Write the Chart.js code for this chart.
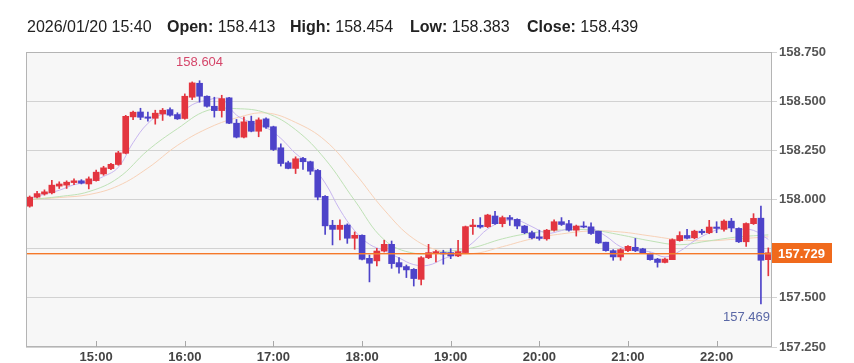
<!DOCTYPE html>
<html>
<head>
<meta charset="utf-8">
<script src="https://cdn.jsdelivr.net/npm/chart.js@4/dist/chart.umd.min.js"></script>
<style>
  html, body { margin: 0; padding: 0; background: #fff; }
  #wrap { position: relative; width: 854px; height: 363px; }
  #hdr span { position: absolute; top: 18px; font: 16px "Liberation Sans", Arial, sans-serif; color: #222; white-space: nowrap; }
  #hdr b { font-weight: bold; }
  canvas { position: absolute; left: 0; top: 0; }
</style>
</head>
<body>
<div id="wrap">
  <canvas id="chart" width="854" height="363"></canvas>
  <div id="hdr">
    <span style="left:27px">2026/01/20 15:40</span>
    <span style="left:167px"><b>Open:</b> 158.413</span>
    <span style="left:290px"><b>High:</b> 158.454</span>
    <span style="left:410px"><b>Low:</b> 158.383</span>
    <span style="left:527px"><b>Close:</b> 158.439</span>
  </div>
</div>
<script>
// 5 minute candles, 14:15 .. 22:35
const times = [
  '14:15','14:20','14:25','14:30','14:35','14:40','14:45','14:50','14:55',
  '15:00','15:05','15:10','15:15','15:20','15:25','15:30','15:35','15:40','15:45','15:50','15:55',
  '16:00','16:05','16:10','16:15','16:20','16:25','16:30','16:35','16:40','16:45','16:50','16:55',
  '17:00','17:05','17:10','17:15','17:20','17:25','17:30','17:35','17:40','17:45','17:50','17:55',
  '18:00','18:05','18:10','18:15','18:20','18:25','18:30','18:35','18:40','18:45','18:50','18:55',
  '19:00','19:05','19:10','19:15','19:20','19:25','19:30','19:35','19:40','19:45','19:50','19:55',
  '20:00','20:05','20:10','20:15','20:20','20:25','20:30','20:35','20:40','20:45','20:50','20:55',
  '21:00','21:05','21:10','21:15','21:20','21:25','21:30','21:35','21:40','21:45','21:50','21:55',
  '22:00','22:05','22:10','22:15','22:20','22:25','22:30','22:35'
];

const opens = [
  157.966,158.012,158.028,158.034,158.068,158.073,158.086,158.095,158.079,158.096,
  158.130,158.157,158.178,158.235,158.420,158.445,158.420,158.413,158.435,158.457,
  158.432,158.412,158.520,158.591,158.525,158.474,158.452,158.517,158.388,158.317,
  158.398,158.347,158.410,158.370,158.263,158.187,158.158,158.209,158.192,158.148,
  158.016,157.869,157.848,157.870,157.803,157.818,157.701,157.688,157.738,157.772,
  157.679,157.659,157.645,157.594,157.704,157.726,157.730,157.730,157.713,157.730,
  157.862,157.869,157.862,157.916,157.877,157.908,157.899,157.865,157.831,157.810,
  157.800,157.844,157.887,157.877,157.844,157.865,157.861,157.839,157.783,157.740,
  157.708,157.740,157.757,157.749,157.725,157.697,157.680,157.694,157.791,157.817,
  157.805,157.839,157.831,157.860,157.848,157.890,157.853,157.785,157.877,157.905,
  157.694
];
const highs = [
  158.018,158.042,158.049,158.098,158.090,158.095,158.105,158.101,158.115,158.149,
  158.169,158.184,158.245,158.428,158.449,158.464,158.444,158.454,158.463,158.466,
  158.441,158.537,158.598,158.604,158.527,158.520,158.530,158.520,158.407,158.419,
  158.424,158.415,158.415,158.373,158.283,158.195,158.217,158.215,158.195,158.153,
  158.020,157.894,157.896,157.876,157.835,157.820,157.718,157.752,157.793,157.789,
  157.705,157.667,157.649,157.710,157.772,157.742,157.742,157.750,157.793,157.865,
  157.899,157.908,157.925,157.940,157.916,157.919,157.902,157.868,157.839,157.844,
  157.848,157.896,157.908,157.894,157.870,157.887,157.882,157.839,157.783,157.745,
  157.750,157.766,157.802,157.752,157.728,157.701,157.702,157.800,157.836,157.848,
  157.844,157.848,157.894,157.887,157.896,157.904,157.856,157.882,157.928,157.966,
  157.754
];
const lows = [
  157.961,158.008,158.022,158.029,158.056,158.056,158.076,158.079,158.054,158.093,
  158.123,158.152,158.174,158.232,158.406,158.406,158.398,158.383,158.402,158.424,
  158.407,158.408,158.508,158.495,158.469,158.419,158.419,158.385,158.313,158.313,
  158.344,158.319,158.361,158.249,158.170,158.156,158.132,158.153,158.127,157.998,
  157.823,157.769,157.794,157.777,157.747,157.693,157.581,157.662,157.733,157.650,
  157.625,157.603,157.560,157.566,157.699,157.682,157.671,157.699,157.709,157.726,
  157.823,157.854,157.857,157.873,157.861,157.868,157.851,157.826,157.800,157.793,
  157.793,157.839,157.868,157.839,157.814,157.856,157.822,157.776,157.737,157.691,
  157.691,157.735,157.735,157.725,157.691,157.656,157.677,157.694,157.788,157.800,
  157.800,157.822,157.826,157.831,157.839,157.836,157.781,157.762,157.873,157.469,
  157.612
];
const closes = [
  158.012,158.030,158.039,158.073,158.079,158.088,158.095,158.083,158.105,158.139,
  158.161,158.179,158.237,158.423,158.444,158.418,158.413,158.439,158.454,158.429,
  158.410,158.525,158.593,158.525,158.474,158.452,158.513,158.388,158.317,158.395,
  158.347,158.405,158.368,158.254,158.183,158.158,158.207,158.192,158.144,158.012,
  157.866,157.848,157.869,157.803,157.818,157.696,157.676,157.738,157.772,157.674,
  157.657,157.642,157.598,157.704,157.730,157.735,157.723,157.713,157.735,157.862,
  157.870,157.860,157.921,157.877,157.908,157.899,157.865,157.831,157.805,157.802,
  157.844,157.887,157.873,157.844,157.865,157.860,157.827,157.779,157.740,157.708,
  157.745,157.762,157.740,157.728,157.694,157.680,157.697,157.796,157.817,157.803,
  157.839,157.831,157.860,157.853,157.890,157.856,157.785,157.878,157.904,157.691,
  157.729
];

// moving average lines, read at every 10 min (fast) and every 20 min (mid, slow)
const maFastTimes = [
  '14:15','14:25','14:35','14:45','14:55','15:05','15:15','15:25','15:35','15:45','15:55',
  '16:05','16:15','16:25','16:35','16:45','16:55','17:05','17:15','17:25','17:35','17:45','17:55',
  '18:05','18:15','18:25','18:35','18:45','18:55','19:05','19:15','19:25','19:35','19:45','19:55',
  '20:05','20:15','20:25','20:35','20:45','20:55','21:05','21:15','21:25','21:35','21:45','21:55',
  '22:05','22:15','22:25','22:35'
];
const maFast = [
  158.005,158.027,158.047,158.075,158.090,158.117,158.164,158.289,158.387,158.434,158.429,
  158.482,158.505,158.511,158.429,158.392,158.366,158.311,158.234,158.177,158.084,157.948,157.841,
  157.772,157.740,157.703,157.669,157.666,157.698,157.727,157.781,157.850,157.887,157.894,157.862,
  157.829,157.842,157.863,157.854,157.814,157.760,157.739,157.734,157.708,157.737,157.790,157.830,
  157.855,157.849,157.843,157.797
];
const maSlowTimes = [
  '14:15','14:35','14:55','15:15','15:35','15:55','16:15','16:35','16:55','17:15','17:35','17:55',
  '18:15','18:35','18:55','19:15','19:35','19:55','20:15','20:35','20:55','21:15','21:35','21:55',
  '22:15','22:35'
];
const maMid = [
  158.000,158.015,158.040,158.110,158.250,158.360,158.452,158.462,158.440,158.355,158.205,157.995,
  157.795,157.727,157.735,157.755,157.800,157.830,157.845,157.845,157.820,157.790,157.770,157.790,
  157.810,157.820
];
const maSlow = [
  158.000,158.010,158.025,158.070,158.160,158.275,158.360,158.415,158.440,158.392,158.300,158.135,
  157.947,157.800,157.735,157.725,157.760,157.800,157.825,157.840,157.835,157.815,157.795,157.790,
  157.800,157.810
];

const yTicks = [157.25, 157.5, 157.75, 158.0, 158.25, 158.5, 158.75];

const UP = '#e3353f';
const DOWN = '#4d43c9';
const colors = closes.map((c, i) => c >= opens[i] ? UP : DOWN);
const tickFont = { family: '"Liberation Sans", Arial, sans-serif', size: 13, weight: 'bold' };

const decor = {
  id: 'decor',
  beforeDraw(chart) {
    const { ctx, chartArea: a } = chart;
    ctx.save();
    ctx.fillStyle = '#f7f7f7';
    ctx.fillRect(a.left, a.top, a.width, a.height);
    ctx.restore();
  },
  afterDraw(chart) {
    const { ctx, chartArea: a, scales } = chart;
    const last = closes[closes.length - 1];
    const py = Math.round(scales.y.getPixelForValue(last));
    ctx.save();
    // current price line
    ctx.fillStyle = '#f5782a';
    ctx.fillRect(a.left, py, a.width, 1);
    ctx.fillStyle = 'rgba(245, 140, 70, 0.45)';
    ctx.fillRect(a.left, py + 1, a.width, 1);
    // frame
    ctx.strokeStyle = '#b4b4b4';
    ctx.lineWidth = 1;
    ctx.strokeRect(a.left + 0.5, a.top + 0.5, a.width - 1, a.height - 1);
    // hour ticks
    ctx.strokeStyle = '#a8a8a8';
    times.forEach((t, i) => {
      if (!t.endsWith(':00')) return;
      const x = Math.round(scales.x.getPixelForValue(i)) + 0.5;
      ctx.beginPath();
      ctx.moveTo(x, a.bottom);
      ctx.lineTo(x, a.bottom - 6);
      ctx.stroke();
    });
    // max / min labels
    ctx.font = '13px "Liberation Sans", Arial, sans-serif';
    const hi = Math.max(...highs);
    const hiIdx = highs.indexOf(hi);
    ctx.fillStyle = '#d5466a';
    ctx.textAlign = 'center';
    ctx.textBaseline = 'middle';
    ctx.fillText(hi.toFixed(3), scales.x.getPixelForValue(hiIdx), scales.y.getPixelForValue(hi) - 18);
    const lo = Math.min(...lows);
    ctx.fillStyle = '#5a68a6';
    ctx.textAlign = 'right';
    ctx.fillText(lo.toFixed(3), a.right - 2, scales.y.getPixelForValue(lo) + 13);
    // current price box
    ctx.fillStyle = '#f06a1c';
    ctx.fillRect(a.right, py - 10, 60, 20);
    ctx.fillStyle = '#fff';
    ctx.font = 'bold 13px "Liberation Sans", Arial, sans-serif';
    ctx.textAlign = 'left';
    ctx.fillText(last.toFixed(3), a.right + 6, py + 1);
    ctx.restore();
  }
};

new Chart(document.getElementById('chart'), {
  data: {
    labels: times,
    datasets: [
      {
        type: 'bar',
        data: opens.map((o, i) => [o, closes[i]]),
        backgroundColor: colors,
        barThickness: 6,
        minBarLength: 1,
        grouped: false,
        order: 1
      },
      {
        type: 'bar',
        data: lows.map((l, i) => [l, highs[i]]),
        backgroundColor: colors,
        barThickness: 1,
        grouped: false,
        order: 2
      },
      {
        type: 'line',
        data: maFastTimes.map((t, i) => ({ x: t, y: maFast[i] })),
        borderColor: '#c8b6f0',
        borderWidth: 1,
        pointRadius: 0,
        tension: 0.4,
        order: 3
      },
      {
        type: 'line',
        data: maSlowTimes.map((t, i) => ({ x: t, y: maMid[i] })),
        borderColor: '#bfe2b6',
        borderWidth: 1,
        pointRadius: 0,
        tension: 0.4,
        order: 4
      },
      {
        type: 'line',
        data: maSlowTimes.map((t, i) => ({ x: t, y: maSlow[i] })),
        borderColor: '#f7d2b8',
        borderWidth: 1,
        pointRadius: 0,
        tension: 0.4,
        order: 5
      }
    ]
  },
  options: {
    responsive: false,
    devicePixelRatio: 1,
    animation: false,
    layout: { padding: { top: 52, left: 26, right: 0, bottom: 0 } },
    plugins: { legend: { display: false }, tooltip: { enabled: false } },
    scales: {
      x: {
        type: 'category',
        offset: true,
        grid: { display: false, drawTicks: false },
        border: { display: false },
        afterFit: s => { s.height = 16; },
        ticks: {
          autoSkip: false,
          maxRotation: 0,
          padding: 3,
          color: '#444',
          font: tickFont,
          callback: (v, i) => times[i].endsWith(':00') ? times[i] : null
        }
      },
      y: {
        position: 'right',
        min: 157.25,
        max: 158.75,
        afterFit: s => { s.width = 82; },
        afterBuildTicks: s => { s.ticks = yTicks.map(v => ({ value: v })); },
        grid: { color: '#d2d2d2', tickLength: 5 },
        border: { display: false },
        ticks: {
          padding: 2,
          color: '#555',
          font: tickFont,
          callback: v => v.toFixed(3)
        }
      }
    }
  },
  plugins: [decor]
});
</script>
</body>
</html>
